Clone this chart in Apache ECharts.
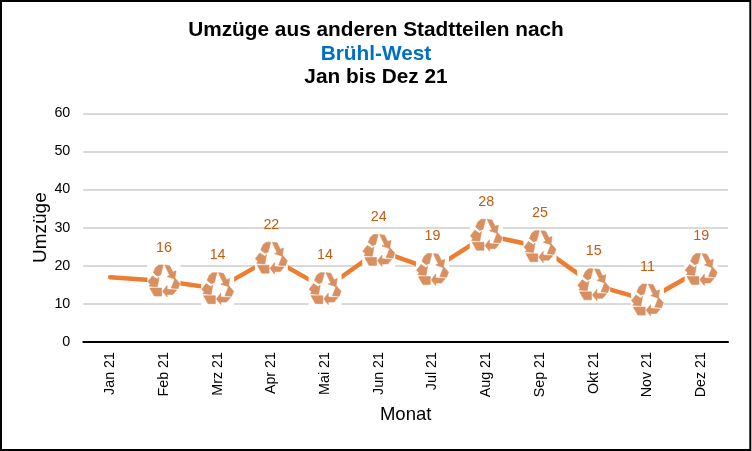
<!DOCTYPE html>
<html>
<head>
<meta charset="utf-8">
<style>
html,body{margin:0;padding:0;background:#fff}
#main{width:752px;height:451px}
</style>
<script src="https://cdn.jsdelivr.net/npm/echarts@6/dist/echarts.min.js"></script>
</head>
<body>
<div id="main"></div>
<script>
var months = ['Jan 21','Feb 21','Mrz 21','Apr 21','Mai 21','Jun 21','Jul 21','Aug 21','Sep 21','Okt 21','Nov 21','Dez 21'];
var umzuege = [17,16,14,22,14,24,19,28,25,15,11,19];

// recycling sign in a 100x100 box, six pieces round the ring
var recycle = 'path://' +
    'M24 8 L34 0 L48 0 L40 31 L30 35 L17 24 Z ' +
    'M53 0 L68 2 L78 22 L88 18 L84 44 L60 36 L68 32 L58 12 Z ' +
    'M85 41 L100 58 L94 74 L73 72 Z ' +
    'M60 64 L46 82 L60 100 L60 92 L78 92 L90 78 L60 76 Z ' +
    'M6 72 L43 72 L43 97 L20 97 Z ' +
    'M14 34 L29 44 L35 38 L30 68 L4 66 L8 60 L0 52 Z';

var markerData = umzuege.map(function (v, i) { return i == 0 ? null : [i, v]; });

var chart = echarts.init(document.getElementById('main'), null, {renderer:'canvas'});
chart.setOption({
    animation: false,
    backgroundColor: '#fff',
    graphic: [{
        type: 'rect',
        z: 100,
        shape: {x:1, y:1, width:749.3, height:449},
        style: {fill:'none', stroke:'#000', lineWidth:2}
    }],
    title: {
        text: '{a|Umzüge aus anderen Stadtteilen nach}\n{b|Brühl-West}\n{a|Jan bis Dez 21}',
        left: 371, top: 14, textAlign: 'center',
        textStyle: {
            rich: {
                a: {fontFamily:'Liberation Sans', fontSize:20.8, fontWeight:'bold', color:'#000', lineHeight:23.5},
                b: {fontFamily:'Liberation Sans', fontSize:20.8, fontWeight:'bold', color:'#0070C0', lineHeight:23.5}
            }
        }
    },
    grid: {left:83.3, right:24, top:113.3, bottom:109},
    xAxis: [{
        type: 'category',
        data: months,
        name: 'Monat',
        nameLocation: 'middle',
        nameGap: 63,
        nameTextStyle: {fontFamily:'Liberation Sans', fontSize:18.5, color:'#000'},
        axisLine: {lineStyle:{color:'#000', width:2}},
        axisTick: {length:4, lineStyle:{color:'#000', width:2}},
        axisLabel: {rotate:90, fontFamily:'Liberation Sans', fontSize:14.3, color:'#000', margin:10, interval:0}
    },{
        // same axis again only for the upper half of the crossing ticks
        type: 'category',
        data: months,
        position: 'bottom',
        axisLine: {show:false},
        axisTick: {inside:true, length:4, lineStyle:{color:'#000', width:2}},
        axisLabel: {show:false}
    }],
    yAxis: {
        type: 'value',
        min: 0, max: 60, interval: 10,
        name: 'Umzüge',
        nameLocation: 'middle',
        nameGap: 33,
        nameMoveOverlap: false,
        nameTextStyle: {fontFamily:'Liberation Sans', fontSize:19, color:'#000'},
        axisLine: {show:false},
        axisTick: {show:false},
        axisLabel: {fontFamily:'Liberation Sans', fontSize:14.3, color:'#000', margin:13},
        splitLine: {lineStyle:{color:'#D9D9D9', width:2}}
    },
    series: [{
        type: 'line',
        data: umzuege,
        z: 2,
        symbol: 'none',
        lineStyle: {color:'#ED7D31', width:4.5, cap:'round'}
    },{
        // white box of the marker picture, Jan has none
        type: 'scatter',
        z: 3,
        data: markerData,
        symbol: 'rect',
        symbolSize: 33,
        itemStyle: {color:'#fff', opacity:1}
    },{
        type: 'scatter',
        z: 4,
        data: markerData,
        symbol: recycle,
        symbolSize: 32,
        itemStyle: {color:'#D98F5F', opacity:1, borderColor:'#D98F5F', borderWidth:0.6},
        label: {
            show: true,
            position: 'top',
            distance: 10,
            formatter: function (p) { return p.value[1]; },
            fontFamily: 'Liberation Sans',
            fontSize: 14.3,
            color: '#C55A11'
        }
    }]
});
</script>
</body>
</html>
